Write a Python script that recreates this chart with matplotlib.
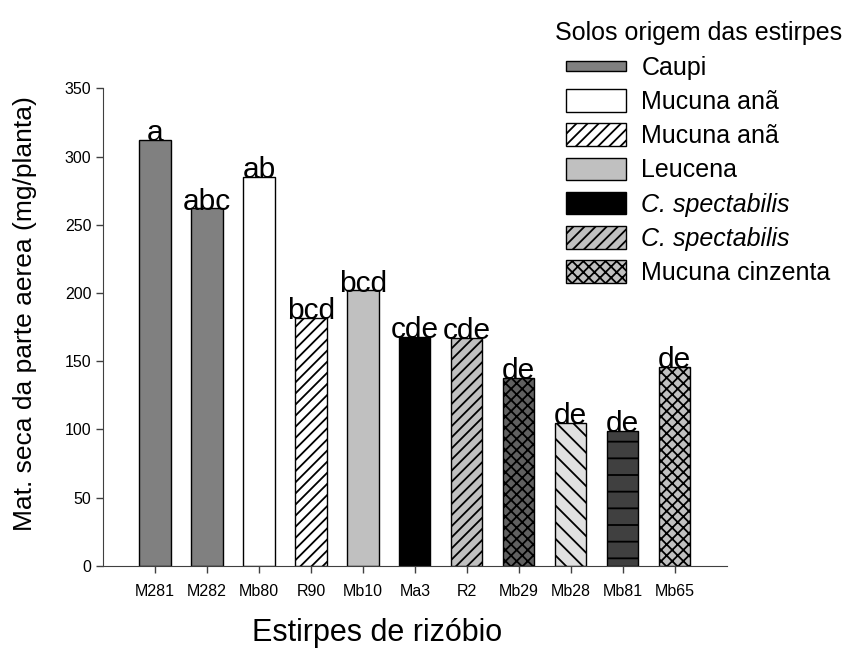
import matplotlib
matplotlib.use("Agg")
import matplotlib.pyplot as plt
import numpy as np
from matplotlib.patches import Patch, Rectangle
from matplotlib.legend_handler import HandlerPatch

plt.rcParams["font.family"] = ["Liberation Sans", "DejaVu Sans"]
plt.rcParams["hatch.linewidth"] = 1.3

strains = ["M281", "M282", "Mb80", "R90", "Mb10", "Ma3", "R2", "Mb29", "Mb28", "Mb81", "Mb65"]
dry_mass = [312, 262, 285, 182, 202, 168, 167, 138, 105, 99, 146]
letters = ["a", "abc", "ab", "bcd", "bcd", "cde", "cde", "de", "de", "de", "de"]

bar_colors = ["#808080", "#808080", "#ffffff", "#ffffff", "#c0c0c0", "#000000",
              "#c0c0c0", "#606060", "#e0e0e0", "#404040", "#c0c0c0"]
bar_hatches = [None, None, None, "///", None, None, "///", "xxx", "\\\\", "-", "xxx"]

soil_labels = ["Caupi", "Mucuna anã", "Mucuna anã", "Leucena",
               "C. spectabilis", "C. spectabilis", "Mucuna cinzenta"]
soil_colors = ["#808080", "#ffffff", "#ffffff", "#c0c0c0", "#000000", "#c0c0c0", "#c0c0c0"]
soil_hatches = [None, None, "///", None, None, "///", "xxx"]

fig = plt.figure(figsize=(8.45, 6.49), dpi=100)
ax = fig.add_axes([0.122, 0.128, 0.738, 0.736])

x = np.arange(len(strains))
bars = ax.bar(x, dry_mass, width=0.6, color=bar_colors, edgecolor="black", linewidth=1.0)
for b, h in zip(bars, bar_hatches):
    if h:
        b.set_hatch(h)

for xi, v, t in zip(x, dry_mass, letters):
    ax.text(xi, v - 1, t, ha="center", va="baseline", fontsize=21.5)

ax.set_xlim(-1, 11)
ax.set_ylim(0, 350)
ax.set_yticks(np.arange(0, 351, 50))
ax.set_xticks(x)
ax.set_xticklabels(strains)
ax.tick_params(labelsize=11.5, length=5, width=1, color="#404040")
ax.tick_params(axis="x", pad=8)
for s in ["top", "right"]:
    ax.spines[s].set_visible(False)
for s in ["left", "bottom"]:
    ax.spines[s].set_color("#404040")

ax.set_xlabel("Estirpes de rizóbio", fontsize=22)
ax.xaxis.set_label_coords(0.44, -0.11)
ax.set_ylabel("Mat. seca da parte aerea (mg/planta)", fontsize=19)
ax.yaxis.set_label_coords(-0.106, 0.529)


# Caupi is drawn as a thin strip in the original legend
def thin_patch(legend, orig_handle, xdescent, ydescent, width, height, fontsize):
    return Rectangle((-xdescent, -ydescent + height * 0.28), width, height * 0.44)


handles = [Patch(facecolor=c, edgecolor="black", hatch=h, linewidth=1.0)
           for c, h in zip(soil_colors, soil_hatches)]
leg = fig.legend(handles, soil_labels, loc="upper left", bbox_to_anchor=(0.639, 0.99),
                 frameon=False, fontsize=18, title="Solos origem das estirpes",
                 title_fontsize=18, handlelength=2.4, handleheight=1.0,
                 labelspacing=0.38, handletextpad=0.6, borderpad=0.1,
                 handler_map={handles[0]: HandlerPatch(patch_func=thin_patch)})
for t in leg.get_texts()[4:6]:
    t.set_style("italic")

fig.savefig("out.png", dpi=100)
